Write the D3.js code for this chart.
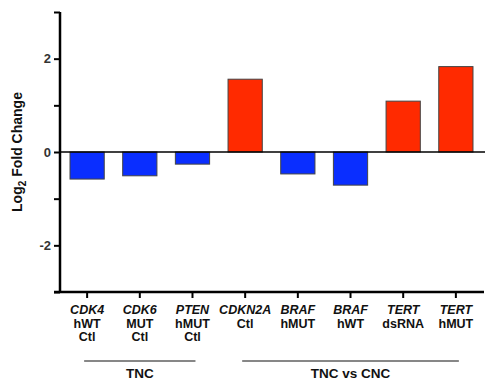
<!DOCTYPE html>
<html>
<head>
<meta charset="utf-8">
<script src="https://cdn.jsdelivr.net/npm/d3@7"></script>
<style>
  body { margin: 0; background: #fff; }
  text { font-family: Arial, "Liberation Sans", sans-serif; }
</style>
</head>
<body>
<svg width="486" height="381"></svg>
<script>
var genes = ["CDK4", "CDK6", "PTEN", "CDKN2A", "BRAF", "BRAF", "TERT", "TERT"];
var line2 = ["hWT", "MUT", "hMUT", "Ctl", "hMUT", "hWT", "dsRNA", "hMUT"];
var line3 = ["Ctl", "Ctl", "Ctl", "", "", "", "", ""];
var values = [-0.58, -0.51, -0.26, 1.56, -0.47, -0.71, 1.09, 1.83];
var yTicks = [-3, -2, -1, 0, 1, 2, 3];
var yLabels = [-2, 0, 2];
var groups = [
  { name: "TNC", from: 0, to: 2 },
  { name: "TNC vs CNC", from: 3, to: 7 }
];

var svg = d3.select("svg");
var plotLeft = 60, plotRight = 484, plotTop = 12, plotBottom = 292;

var idx = d3.range(genes.length);
var x = d3.scaleBand().domain(idx).range([plotLeft, plotRight - 1]).paddingInner(0.35).paddingOuter(0.19);
var y = d3.scaleLinear().domain([-3, 3]).range([plotBottom, plotTop]);
var cx = function(i) { return x(i) + x.bandwidth() / 2; };

// bars
svg.append("g")
  .selectAll("rect")
  .data(values)
  .enter().append("rect")
    .attr("x", function(d, i) { return x(i); })
    .attr("width", x.bandwidth())
    .attr("y", function(d) { return y(Math.max(0, d)); })
    .attr("height", function(d) { return Math.abs(y(d) - y(0)); })
    .attr("fill", function(d) { return d < 0 ? "#0a2eff" : "#ff2a00"; })
    .attr("stroke", "#444")
    .attr("stroke-width", 1);

// zero line
svg.append("line")
  .attr("x1", plotLeft).attr("x2", plotRight + 1)
  .attr("y1", y(0)).attr("y2", y(0))
  .attr("stroke", "#000").attr("stroke-width", 1.5);

// y axis
var yAxis = d3.axisLeft(y).tickValues(yTicks).tickSize(6)
  .tickFormat(function(d) { return yLabels.indexOf(d) >= 0 ? d : ""; });
var gy = svg.append("g").attr("transform", "translate(" + plotLeft + ",0)").call(yAxis);
gy.select(".domain").attr("stroke-width", 2.5).attr("d", "M0," + plotTop + "V" + plotBottom);
gy.selectAll(".tick line").attr("stroke-width", 2);
gy.selectAll(".tick text").attr("font-size", 13).attr("font-weight", "bold").attr("fill", "#333").attr("x", -9);

// x axis
var xAxis = d3.axisBottom(x).tickSize(6).tickFormat("");
var gx = svg.append("g").attr("transform", "translate(0," + plotBottom + ")").call(xAxis);
gx.select(".domain").attr("stroke-width", 2.5).attr("d", "M" + (plotLeft - 6) + ",0H" + plotRight);
gx.selectAll(".tick line").attr("stroke-width", 2);

// category labels
var lab = svg.append("g").selectAll("text")
  .data(idx)
  .enter().append("text")
    .attr("text-anchor", "middle")
    .attr("font-size", 12.5)
    .attr("font-weight", "bold")
    .attr("fill", "#111")
    .attr("transform", function(i) { return "translate(" + cx(i) + "," + (plotBottom + 22) + ")"; });
lab.append("tspan").attr("x", 0).attr("dy", 0).attr("font-style", "italic").text(function(i) { return genes[i]; });
lab.append("tspan").attr("x", 0).attr("dy", 13.5).text(function(i) { return line2[i]; });
lab.append("tspan").attr("x", 0).attr("dy", 13.5).text(function(i) { return line3[i]; });

// group brackets
var g = svg.append("g").selectAll("g").data(groups).enter().append("g");
g.append("line")
  .attr("x1", function(d) { return cx(d.from) - 3; })
  .attr("x2", function(d) { return cx(d.to) + 3; })
  .attr("y1", 361).attr("y2", 361)
  .attr("stroke", "#111").attr("stroke-width", 1.2);
g.append("text")
  .attr("x", function(d) { return (cx(d.from) + cx(d.to)) / 2; })
  .attr("y", 378)
  .attr("text-anchor", "middle")
  .attr("font-size", 13.5)
  .attr("font-weight", "bold")
  .attr("fill", "#111")
  .text(function(d) { return d.name; });

// y label
var yl = svg.append("text")
  .attr("transform", "translate(22," + y(0) + ") rotate(-90)")
  .attr("text-anchor", "middle")
  .attr("font-size", 14)
  .attr("font-weight", "bold")
  .attr("fill", "#111");
yl.append("tspan").text("Log");
yl.append("tspan").attr("font-size", 10).attr("dy", 4).text("2");
yl.append("tspan").attr("dy", -4).text(" Fold Change");
</script>
</body>
</html>
